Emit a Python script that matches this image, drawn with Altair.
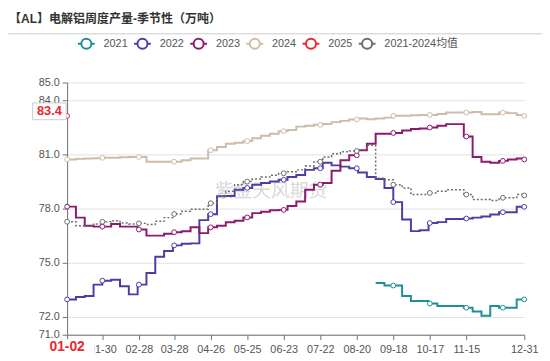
import altair as alt
import pandas as pd

# ---------------- data ----------------
title_text = "【AL】电解铝周度产量-季节性（万吨）"
watermark_text = "紫金天风期货"
series_names = ["2021", "2022", "2023", "2024", "2025", "2021-2024均值"]
avg_name = "2021-2024均值"
series_colors = ["#1D8F96", "#4B3DA8", "#8C1B6E", "#CDBCA8", "#E8282E", "#6E6E6E"]
series_widths = [2, 2, 2, 1.5, 2, 1.5]

# weekly dates (month-day), plus year end
week_md = [d.strftime("%m-%d") for d in pd.date_range("2025-01-02", periods=52, freq="7D")] + ["12-31"]

v2021 = [None] * 35 + [73.87, 73.73, 73.73, 73.15, 72.87, 72.87, 72.73, 72.6, 72.6,
                       72.6, 72.5, 72.29, 72.05, 72.6, 72.5, 72.5, 72.96, 72.96]
v2022 = [72.96, 73.09, 73.15, 73.78, 74.0, 74.05, 73.69, 73.24, 73.78, 74.42,
         75.33, 75.65, 75.96, 76.05, 76.07, 77.36, 77.69, 78.69, 78.7, 79.05,
         79.15, 79.33, 79.42, 79.5, 79.6, 79.75, 79.87, 80.15, 80.24, 80.55,
         80.4, 80.33, 80.24, 80.0, 79.75, 79.64, 79.15, 78.36, 77.4, 76.75,
         76.8, 77.2, 77.25, 77.42, 77.42, 77.45, 77.5, 77.56, 77.67, 77.8,
         77.8, 78.1, 78.1]
v2023 = [78.11, 77.5, 77.05, 77.0, 77.0, 77.15, 77.0, 77.0, 76.84, 76.5,
         76.5, 76.6, 76.69, 76.74, 76.96, 76.64, 76.96, 77.05, 77.24, 77.33,
         77.51, 77.75, 77.82, 77.91, 77.93, 78.15, 78.4, 79.05, 79.33, 79.42,
         80.1, 80.69, 80.96, 81.24, 81.6, 82.15, 82.15, 82.2, 82.33, 82.42,
         82.45, 82.5, 82.6, 82.69, 82.69, 82.0, 80.87, 80.6, 80.55, 80.65,
         80.73, 80.78, 80.73]
v2024 = [80.73, 80.76, 80.78, 80.8, 80.82, 80.82, 80.85, 80.87, 80.87, 80.6,
         80.6, 80.6, 80.6, 80.69, 80.78, 80.78, 81.24, 81.42, 81.6, 81.65,
         81.75, 81.9, 82.05, 82.15, 82.3, 82.36, 82.55, 82.6, 82.65, 82.7,
         82.8, 82.87, 82.95, 83.0, 82.96, 83.0, 83.05, 83.15, 83.15, 83.18,
         83.2, 83.2, 83.25, 83.33, 83.33, 83.33, 83.36, 83.24, 83.24, 83.33,
         83.3, 83.2, 83.15]
v2025 = [83.15] + [None] * 52
vavg = [77.27, 77.05, 77.02, 77.15, 77.27, 77.33, 77.2, 77.15, 77.18, 77.12,
        77.3, 77.5, 77.7, 77.85, 77.96, 77.96, 78.3, 78.69, 78.96, 79.33,
        79.5, 79.64, 79.75, 79.85, 79.96, 80.05, 80.15, 80.36, 80.6, 80.87,
        81.05, 81.15, 81.2, 81.27, 81.51, 79.69, 79.6, 79.33, 79.15, 78.78,
        78.78, 78.87, 78.96, 79.05, 79.05, 78.78, 78.51, 78.51, 78.45, 78.6,
        78.6, 78.78, 78.73]
series_values = [v2021, v2022, v2023, v2024, v2025, vavg]

x_ticks_md = ["01-02", "01-30", "02-28", "03-28", "04-26", "05-25", "06-23",
              "07-22", "08-20", "09-18", "10-17", "11-15", "12-31"]
marker_md = ["01-02", "01-30", "02-28", "03-28", "04-26", "05-25", "06-23",
             "07-22", "08-20", "09-18", "10-17", "11-15", "12-14", "12-31"]
y_ticks = [71, 72, 75, 78, 81, 84, 85]
y_domain = [71, 85]
pointer_md = "01-02"
pointer_value = 83.4

YEAR = 2025
START = pd.Timestamp(f"{YEAR}-01-02")


def day(md):
    """days since the first category date (position on the x axis)"""
    return int((pd.Timestamp(f"{YEAR}-{md}") - START).days)


# ---------------- tables ----------------
rows = []
for name, vals in zip(series_names, series_values):
    for md, v in zip(week_md, vals):
        if v is not None:
            rows.append({"series": name, "day": day(md), "md": md, "value": v})
df_lines = pd.DataFrame(rows)

mrows = []
for name, vals in zip(series_names, series_values):
    pts = [(md, v) for md, v in zip(week_md, vals) if v is not None]
    for mk in marker_md:
        if pts[0][0] <= mk <= pts[-1][0]:
            val = [v for md, v in pts if md <= mk][-1]
            mrows.append({"series": name, "day": day(mk), "value": val})
df_markers = pd.DataFrame(mrows)

df_ptr = pd.DataFrame({"day": [day(pointer_md)], "value": [pointer_value],
                       "xlab": [pointer_md], "ylab": [f"{pointer_value:.1f}"]})

# ---------------- encodings ----------------
FONT = "Liberation Sans, Noto Sans CJK SC, sans-serif"
color_scale = alt.Scale(domain=series_names, range=series_colors)
tick_days = [day(m) for m in x_ticks_md]
label_map = ",".join(f"'{day(m)}':'{'' if m == pointer_md else m}'" for m in x_ticks_md)
x_label_expr = "{" + label_map + "}['' + datum.value]"

x_enc = alt.X(
    "day:Q",
    scale=alt.Scale(domain=[day("01-02"), day("12-31")], nice=False, zero=False),
    axis=alt.Axis(values=tick_days, tickCount=len(tick_days) + 5, labelExpr=x_label_expr,
                  title=None, grid=False, tickSize=5, labelPadding=4, labelFontSize=11,
                  labelColor="#555555", domainColor="#6E7079", tickColor="#6E7079",
                  labelFlush=False, labelOverlap=False),
)
y_enc = alt.Y(
    "value:Q",
    scale=alt.Scale(domain=y_domain, nice=False, zero=False),
    axis=alt.Axis(values=y_ticks, tickCount=len(y_ticks) + 5, format=".1f", title=None,
                  grid=True, gridColor="#E3E3E3",
                  domainColor="#6E7079", tickColor="#6E7079", tickSize=5, labelPadding=3,
                  labelFontSize=11, labelColor="#555555", labelOverlap=False, labelFlush=False),
)

legend_symbol = "M-1,0L-0.6,0M0.6,0L1,0M-0.6,0A0.6,0.6,0,1,1,0.6,0A0.6,0.6,0,1,1,-0.6,0Z"
legend = alt.Legend(title=None, orient="none", legendX=10, legendY=-49, direction="horizontal",
                    symbolType=legend_symbol, symbolSize=289, symbolStrokeWidth=1.3,
                    symbolFillColor="white", labelFontSize=11,
                    labelColor="#555555", labelOffset=8, columnPadding=2, padding=0,
                    labelFont=FONT)
width_scale = alt.Scale(domain=series_names, range=series_widths)

watermark = alt.Chart(pd.DataFrame({"t": [watermark_text]})).mark_text(
    fontSize=19, color="#BBBBBB", opacity=0.55, align="center", baseline="middle"
).encode(x=alt.value(207), y=alt.value(110), text="t:N")

lines = alt.Chart(df_lines).transform_filter(
    alt.datum.series != avg_name
).mark_line(interpolate="step-after").encode(
    x=x_enc, y=y_enc,
    color=alt.Color("series:N", scale=color_scale, legend=legend, sort=series_names),
    strokeWidth=alt.StrokeWidth("series:N", scale=width_scale, legend=None),
)

avg_line = alt.Chart(df_lines).transform_filter(
    alt.datum.series == avg_name
).mark_line(interpolate="step-after", strokeDash=[2, 2], strokeWidth=1.5).encode(
    x="day:Q", y="value:Q",
    color=alt.Color("series:N", scale=color_scale, legend=None),
)

markers = alt.Chart(df_markers).mark_point(
    shape="circle", size=24, filled=True, fill="white", strokeWidth=1, opacity=1
).encode(
    x="day:Q", y="value:Q",
    stroke=alt.Stroke("series:N", scale=color_scale, legend=None),
)

box_y = alt.Chart(df_ptr).mark_point(
    shape="M-1,-0.5H1V0.5H-1Z", size=34 * 34, filled=True, fill="white",
    stroke="#CCCCCC", strokeWidth=1, opacity=1
).encode(x=alt.value(-18), y="value:Q")
text_y = alt.Chart(df_ptr).mark_text(
    color="#E8282E", fontWeight="bold", fontSize=13, align="center", baseline="middle"
).encode(x=alt.value(-18), y="value:Q", text="ylab:N")

box_x = alt.Chart(df_ptr).mark_point(
    shape="M-1,-0.3H1V0.3H-1Z", size=56 * 56, filled=True, fill="white",
    strokeWidth=0, opacity=1
).encode(x="day:Q", y=alt.value(269))
text_x = alt.Chart(df_ptr).mark_text(
    color="#E8282E", fontWeight="bold", fontSize=14, align="center", baseline="middle"
).encode(x="day:Q", y=alt.value(269), text="xlab:N")

title = alt.Chart(pd.DataFrame({"t": [title_text]})).mark_text(
    align="left", baseline="middle", fontSize=12.2, fontWeight="bold", color="#333333"
).encode(x=alt.value(-59), y=alt.value(-64), text="t:N")

sep = alt.Chart(pd.DataFrame({"k": [0]})).mark_rule(color="#DDDDDD", strokeWidth=1.5).encode(
    x=alt.value(-60), x2=alt.value(482), y=alt.value(-49.5)
)

chart = alt.layer(
    watermark, lines, avg_line, markers, box_y, text_y, box_x, text_x, title, sep
).properties(
    width=464, height=256,
    padding={"left": 60, "top": 73, "right": 18, "bottom": 20},
    autosize="none",
).configure(font=FONT).configure_view(stroke=None)

chart.save("out.html", embed_options={"renderer": "svg", "actions": False})
